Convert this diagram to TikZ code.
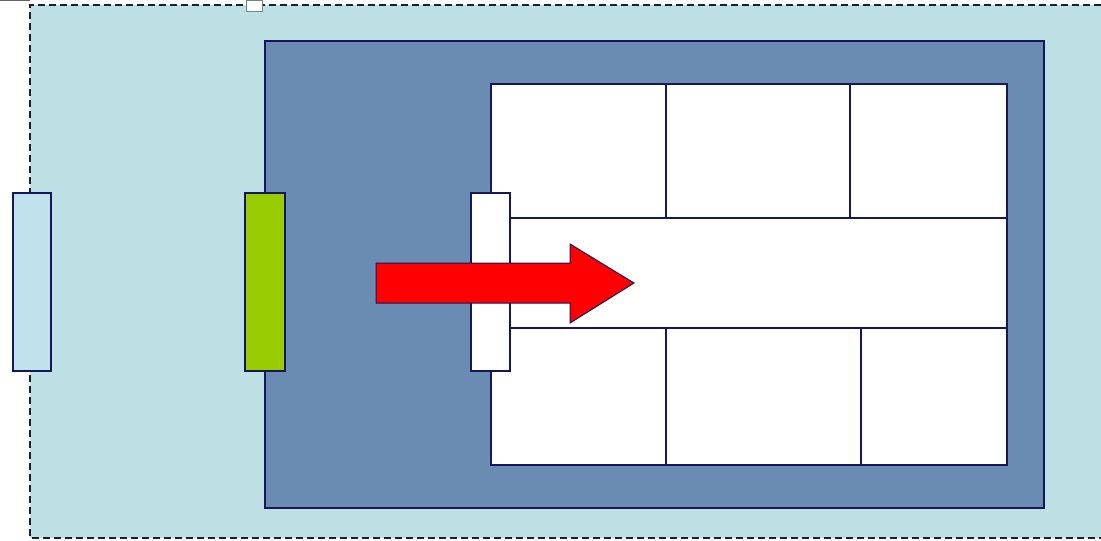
\documentclass[tikz,border=0pt]{standalone}
\usetikzlibrary{positioning}
\definecolor{outerbg}{RGB}{189,224,228}
\definecolor{innerbg}{RGB}{107,140,178}
\definecolor{navy}{RGB}{22,22,92}
\definecolor{leafgreen}{RGB}{153,204,0}
\definecolor{paleblue}{RGB}{192,226,236}
\definecolor{dashgray}{RGB}{30,30,40}
\tikzset{
  px/.style={x=1pt,y=-1pt},
  cell/.style={draw=navy,line width=1.6pt,fill=white,inner sep=0pt,anchor=north west},
  panel/.style={draw=navy,line width=1.8pt,inner sep=0pt,anchor=north west},
  frame/.style={draw=dashgray,line width=2.3pt,dash pattern=on 7pt off 4pt},
}
\begin{document}
\begin{tikzpicture}[px]
\useasboundingbox (0,0) rectangle (1101,541);
\fill[white] (0,0) rectangle (1101,541);
% outer dashed area
\fill[outerbg] (30,5) rectangle (1101,538);
\draw[frame] (1101,5) -- (30,5) -- (30,538) -- (1101,538);
\draw[line width=1pt,dashgray!70] (0,0.5) -- (30,0.5);
\node[draw=gray,fill=white!92!outerbg,line width=1pt,minimum width=16pt,minimum height=11pt,inner sep=0pt,anchor=north west] (handle) at (246,0) {};
% dark panel
\node[panel,fill=innerbg,minimum width=779pt,minimum height=467pt] (panel) at (264,40) {};
% grid cells
\node[cell,minimum width=175pt,minimum height=134pt] (t1) at (490,83) {};
\node[cell,minimum width=184pt,minimum height=134pt] (t2) at (665,83) {};
\node[cell,minimum width=157pt,minimum height=134pt] (t3) at (849,83) {};
\node[cell,minimum width=516pt,minimum height=110pt] (mid) at (490,217) {};
\node[cell,minimum width=175pt,minimum height=137pt] (b1) at (490,327) {};
\node[cell,minimum width=195pt,minimum height=137pt] (b2) at (665,327) {};
\node[cell,minimum width=146pt,minimum height=137pt] (b3) at (860,327) {};
% side bars
\node[panel,fill=paleblue,minimum width=38pt,minimum height=178pt] (leftbar) at (12,192) {};
\node[panel,fill=leafgreen,minimum width=40pt,minimum height=178pt] (greenbar) at (244,192) {};
\node[panel,fill=white,minimum width=39pt,minimum height=178pt] (whitebar) at (470,192) {};
% red arrow
\fill[red,draw=navy,line width=1pt,line join=miter]
  (376,263) -- (570,263) -- (570,244) -- (634,283) -- (570,323) -- (570,303) -- (376,303) -- cycle;
\end{tikzpicture}
\end{document}
